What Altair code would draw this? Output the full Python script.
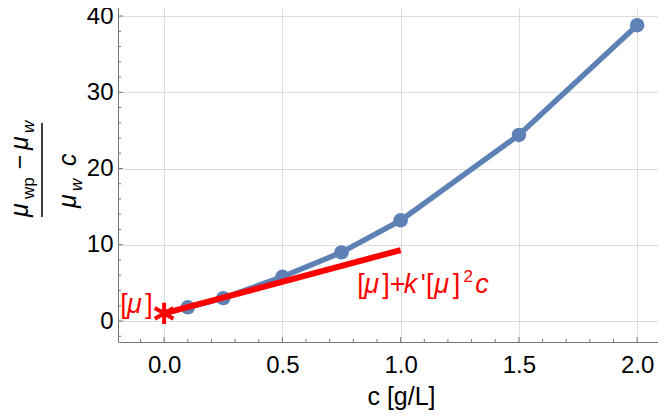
import altair as alt
import pandas as pd

# ---------------- data ----------------
conc = [0.1, 0.25, 0.5, 0.75, 1.0, 1.5, 2.0]
reduced_visc = [1.8, 3.0, 5.8, 9.0, 13.2, 24.4, 38.8]
fit_x = [0.0, 1.0]
fit_y = [1.0, 9.3]
intrinsic_x = [0.0]
intrinsic_y = [1.0]

x_ticks = [0.0, 0.5, 1.0, 1.5, 2.0]
x_minor = [-0.1, 0.1, 0.2, 0.3, 0.4, 0.6, 0.7, 0.8, 0.9, 1.1, 1.2, 1.3, 1.4, 1.6, 1.7, 1.8, 1.9]
y_ticks = [0, 10, 20, 30, 40]
y_minor = [-2, 2, 4, 6, 8, 12, 14, 16, 18, 22, 24, 26, 28, 32, 34, 36, 38, 42]

# annotation text pieces (anchored in data coordinates)
fit_label_up = ["[", "]+", "'[", "]"]
fit_label_up_x = [0.816, 0.922, 1.085, 1.220]
fit_label_it = ["μ", "k", "μ", "c"]
fit_label_it_x = [0.846, 1.013, 1.142, 1.315]
fit_label_y = 3.67
fit_sup = ["2"]
fit_sup_x = [1.266]
fit_sup_y = 5.1
mu_label_up = ["[", "]"]
mu_label_up_x = [-0.186, -0.080]
mu_label_it = ["μ"]
mu_label_it_x = [-0.157]
mu_label_y = 1.05

# ---------------- style ----------------
BLUE = "#5E81B5"
RED = "#FF0000"
FRAME = "#777777"
GRID = "#dcdcdc"
FONT = "Liberation Sans"
W, H = 540, 342
ANN = 27

xs = alt.Scale(domain=[-0.195, 2.088], nice=False, zero=False)
ys = alt.Scale(domain=[-2.754, 42.1], nice=False, zero=False)

xaxis = alt.Axis(values=x_ticks, format=".1f", title="c [g/L]", grid=True, gridColor=GRID,
                 gridWidth=1, ticks=False, domainColor=FRAME, domainWidth=1,
                 labelFontSize=24, labelFont=FONT, labelColor="black", labelPadding=11,
                 labelFlush=False, labelOverlap=False,
                 titleFont=FONT, titleFontSize=25, titleFontWeight="normal", titleColor="black",
                 titleX=283, titleY=62, titleBaseline="alphabetic", titleAlign="center")
yaxis = alt.Axis(values=y_ticks, format="d", title="", grid=True, gridColor=GRID,
                 gridWidth=1, ticks=False, domainColor=FRAME, domainWidth=1,
                 labelFontSize=24, labelFont=FONT, labelColor="black", labelPadding=5,
                 labelFlush=False, labelOverlap=False)


def X():
    return alt.X("x:Q", scale=xs, axis=xaxis)


def Y():
    return alt.Y("y:Q", scale=ys, axis=yaxis)


df_data = pd.DataFrame({"x": conc, "y": reduced_visc})
df_fit = pd.DataFrame({"x": fit_x, "y": fit_y})
df_star = pd.DataFrame({"x": intrinsic_x, "y": intrinsic_y})

layers = []

# data line + points
layers.append(alt.Chart(df_data).mark_line(color=BLUE, strokeWidth=5.5).encode(x=X(), y=Y()))
layers.append(alt.Chart(df_data).mark_circle(color=BLUE, size=210, opacity=1).encode(x=X(), y=Y()))
# red fit line
layers.append(alt.Chart(df_fit).mark_line(color=RED, strokeWidth=6, strokeCap="butt").encode(x=X(), y=Y()))
# star
star_path = "M0,-1L0,1M-0.87,-0.5L0.87,0.5M-0.87,0.5L0.87,-0.5"
layers.append(alt.Chart(df_star).mark_point(shape=star_path, size=460, filled=False, stroke=RED,
                                            strokeWidth=4, opacity=1).encode(x=X(), y=Y()))

# inward frame ticks
def xtick_layer(vals, y0, y1):
    return alt.Chart(pd.DataFrame({"x": vals})).mark_rule(color=FRAME, strokeWidth=1).encode(
        x=X(), y=alt.value(y0), y2=alt.value(y1))


def ytick_layer(vals, x0, x1):
    return alt.Chart(pd.DataFrame({"y": vals})).mark_rule(color=FRAME, strokeWidth=1).encode(
        y=Y(), x=alt.value(x0), x2=alt.value(x1))


layers += [xtick_layer(x_ticks, H, H - 5), xtick_layer(x_minor, H, H - 3),
           xtick_layer(x_ticks, 0, 5), xtick_layer(x_minor, 0, 3),
           ytick_layer(y_ticks, 0, 5), ytick_layer(y_minor, 0, 3)]

# red annotations
def text_layer(texts, xs_, yv, size, italic):
    df = pd.DataFrame({"x": xs_, "y": [yv] * len(xs_), "t": texts})
    kw = dict(font=FONT, fontSize=size, color=RED, align="left", baseline="alphabetic")
    if italic:
        kw["fontStyle"] = "italic"
    return alt.Chart(df).mark_text(**kw).encode(x=X(), y=Y(), text="t:N")


layers += [text_layer(fit_label_up, fit_label_up_x, fit_label_y, ANN, False),
           text_layer(fit_label_it, fit_label_it_x, fit_label_y, ANN, True),
           text_layer(fit_sup, fit_sup_x, fit_sup_y, 17, False),
           text_layer(mu_label_up, mu_label_up_x, mu_label_y, ANN, False),
           text_layer(mu_label_it, mu_label_it_x, mu_label_y, ANN, True)]

# rotated fraction y-axis label: (text, x px, y px, size, italic, align)
ylabel_parts = [
    ("μ", -90, 217, 25, True, "left"),
    ("wp", -84, 199, 17, False, "left"),
    ("−", -90, 162, 25, False, "center"),
    ("μ", -90, 150, 25, True, "left"),
    ("w", -84, 133, 17, True, "left"),
    ("μ", -42, 208, 25, True, "left"),
    ("w", -36, 191, 17, True, "left"),
    ("c", -42, 166, 25, True, "left"),
]
blank = alt.Data(values=[{"a": 1}])
for t, px, py, sz, it, al in ylabel_parts:
    kw = dict(text=t, font=FONT, fontSize=sz, color="black", angle=270, align=al,
              baseline="alphabetic")
    if it:
        kw["fontStyle"] = "italic"
    layers.append(alt.Chart(blank).mark_text(**kw).encode(x=alt.value(px), y=alt.value(py)))
layers.append(alt.Chart(blank).mark_rule(color="black", strokeWidth=1.5).encode(
    x=alt.value(-76), y=alt.value(123), y2=alt.value(217)))

chart = alt.layer(*layers).properties(
    width=W, height=H,
    autosize=alt.AutoSizeParams(type="none"),
    padding={"left": 110, "top": -8, "right": 0, "bottom": 68},
).configure_view(stroke=None)

chart.save("out.html", embed_options={"renderer": "svg", "actions": False})
